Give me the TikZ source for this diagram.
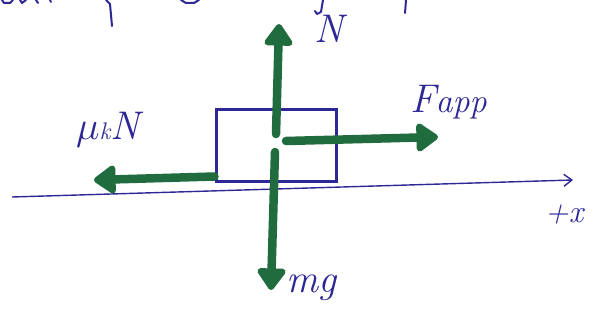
\documentclass[tikz,border=0pt]{standalone}
\usepackage{graphicx}
\usetikzlibrary{arrows.meta}
\definecolor{ink}{RGB}{45,40,150}
\definecolor{marker}{RGB}{32,108,62}
\begin{document}
\begin{tikzpicture}[x=1pt,y=-1pt,
  force/.style={draw=marker,line width=8.5pt,line cap=round,
    -{Triangle[width=32pt,length=24pt,round]}},
  lbl/.style={text=ink,font=\fontsize{40}{44}\selectfont\itshape,inner sep=0pt},
  inkline/.style={draw=ink,line width=2pt,line cap=round,line join=round}]
\useasboundingbox[fill=white] (0,0) rectangle (597,329);
% top cut-off handwriting fragments
\draw[inkline] (2,0) -- (4,3) -- (10,3) -- (13,0);
\draw[inkline] (20,0) -- (22,3) -- (26,0);
\draw[inkline] (36,0) -- (38,3);
\draw[inkline] (50,0) -- (51,2);
\draw[inkline] (106,0) -- (110,4) -- (112,26);
\draw[inkline] (181,0) -- (186,3) -- (194,3) -- (199,0);
\draw[inkline] (323,0) -- (321,12) -- (317,14) -- (315,11);
\draw[inkline] (406,0) -- (405,13);
% axis
\coordinate (axL) at (12,197);
\coordinate (axR) at (573,180);
\draw[draw=ink,line width=1.4pt,-{Straight Barb[width=12pt,length=8pt]}] (axL) -- (axR);
\node[lbl,font=\fontsize{32}{36}\selectfont\itshape] (xl) at (564,215) {+x};
% box
\node[draw=ink,line width=3pt,minimum width=120pt,minimum height=72pt,inner sep=0pt] (box) at (276,145) {};
\coordinate (cu) at (276,134);
\coordinate (cd) at (275,152);
\coordinate (cr) at (286,141);
\coordinate (tipN) at (279,24);
\coordinate (tipmg) at (271,290);
\coordinate (tipF) at (438,137);
\coordinate (fstart) at ([yshift=6pt]box.south west);
\coordinate (tipf) at (94,180);
% forces
\draw[force] (cu) -- (tipN);
\draw[force] (cd) -- (tipmg);
\draw[force] (cr) -- (tipF);
\draw[force] (fstart) -- (tipf);
% labels
\node[lbl] (nN) at (329,29) {N};
\node[lbl,anchor=base west] (nF) at (410,112) {F\fontsize{34}{38}\selectfont app};
\node[lbl,anchor=base west] (nf) at (76,139) {\scalebox{1.6}{$\mu$}\raisebox{-1pt}{\fontsize{24}{26}\selectfont k}N};
\node[lbl,anchor=base west] (nmg) at (286,292) {mg};
\end{tikzpicture}
\end{document}
